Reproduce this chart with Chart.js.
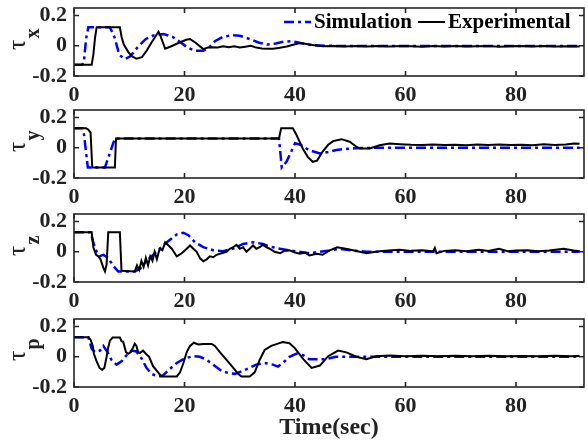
<!DOCTYPE html>
<html><head><meta charset="utf-8">
<script src="https://cdn.jsdelivr.net/npm/chart.js@4.4.0/dist/chart.umd.min.js"></script>
<style>
html,body{margin:0;padding:0;background:#fff;width:588px;height:440px;overflow:hidden;position:relative;}
canvas{position:absolute;left:0;}
</style></head><body>
<canvas id="c0"></canvas><canvas id="c1"></canvas><canvas id="c2"></canvas><canvas id="c3"></canvas>
<script>
// ---- tick labels ----
const xTicks = [0, 20, 40, 60, 80];
const yTicks = [-0.2, 0, 0.2];
const seriesNames = ['Simulation', 'Experimental'];
const xAxisTitle = 'Time(sec)';
const subscripts = ['x', 'y', 'z', 'p'];

// ---- tau_x : [time, value] ----
const tauXSim = [[0,-0.125],[1.5,-0.125],[1.8,-0.1],[2.2,0.05],[2.6,0.122],[6.5,0.122],[7.3,0.06],[8.2,-0.06],[9.2,-0.088],[10.2,-0.07],[11.5,-0.01],[13,0.045],[14.5,0.07],[16.2,0.078],[17.8,0.06],[19.2,0.025],[20.5,-0.01],[21.8,-0.032],[23.4,-0.033],[24.5,-0.01],[25.5,0.03],[27,0.06],[28.5,0.07],[30,0.066],[31.8,0.045],[33.5,0.02],[35,0.008],[36.5,0.015],[38,0.028],[39.5,0.03],[41,0.018],[43,0.005],[46,0],[50,-0.002],[60,-0.002],[70,-0.002],[80,-0.002],[91.5,-0.002]];
const tauXExp = [[0,-0.125],[3.2,-0.125],[3.5,-0.06],[3.8,0.05],[4.1,0.122],[8.3,0.122],[8.6,0.06],[9,0.01],[9.8,-0.04],[10.5,-0.07],[11.3,-0.085],[12.3,-0.075],[13.2,-0.03],[14,0.02],[14.8,0.065],[15.3,0.093],[15.7,0.06],[16.5,-0.02],[17.5,-0.005],[19,0.02],[20.3,0.04],[21,0.045],[22,0.02],[23.4,-0.022],[24.2,-0.012],[25,-0.01],[26,-0.012],[27,-0.004],[28,-0.01],[29,-0.003],[30,-0.012],[31,-0.006],[32,0],[33,-0.012],[34,-0.018],[35,-0.02],[36,-0.02],[37,-0.014],[38.5,-0.005],[40,0.01],[41,0.018],[42,0.012],[43.5,0.003],[45,-0.003],[47,-0.001],[49,-0.004],[51,-0.002],[53,-0.005],[55,-0.001],[57,-0.004],[59,-0.002],[61,-0.003],[63,-0.006],[65,-0.002],[67,-0.004],[69,-0.001],[71,-0.005],[73,-0.003],[75,-0.002],[77,-0.006],[79,-0.003],[81,-0.002],[83,-0.005],[85,-0.002],[87,-0.004],[89,-0.003],[91.5,-0.004]];

// ---- tau_y ----
const tauYSim = [[0,0.13],[1.6,0.13],[1.8,0.09],[2.5,-0.13],[5.6,-0.13],[7.4,0.062],[37.1,0.062],[37.6,-0.13],[38.5,-0.09],[40,0.03],[41,0.02],[42.5,-0.015],[44.5,-0.038],[46,-0.028],[47.5,-0.015],[49,-0.008],[51,-0.003],[55,0],[70,0],[91.5,0]];
const tauYExp = [[0,0.13],[2.2,0.13],[2.6,0.12],[3,0.1],[3.3,-0.13],[7.4,-0.13],[7.6,0.062],[37.1,0.062],[37.5,0.13],[39.6,0.13],[40.2,0.09],[41.4,-0.005],[42.3,-0.06],[43.2,-0.093],[44,-0.085],[45,-0.025],[46,0.02],[46.9,0.044],[48.4,0.057],[49.9,0.04],[51,0.01],[51.7,-0.005],[53.5,-0.005],[55.3,0.017],[57.1,0.028],[59,0.024],[61,0.02],[63,0.018],[65,0.022],[67,0.019],[69,0.02],[71,0.017],[73,0.021],[75,0.019],[77,0.022],[79,0.018],[81,0.02],[83,0.017],[85,0.024],[87,0.019],[89,0.021],[90.5,0.028],[91.5,0.026]];

// ---- tau_z ----
const tauZSim = [[0,0.13],[3,0.13],[3.5,0.06],[4.1,0],[4.6,-0.03],[5.3,-0.02],[6.2,-0.04],[7,-0.09],[8,-0.13],[11,-0.13],[12,-0.11],[13.1,-0.063],[14.9,0],[16.8,0.063],[18.6,0.115],[19.8,0.126],[20.7,0.11],[21.9,0.063],[23.4,0.031],[25.2,0.01],[27,0.004],[28.8,0.021],[30.6,0.052],[32.4,0.063],[34.2,0.052],[35.4,0.035],[37.3,0.02],[39,0.009],[42.6,-0.01],[46.3,0.009],[48.1,0.02],[50.5,0.008],[53,0],[70,0],[91.5,0]];
const tauZExp = [[0,0.13],[3.2,0.13],[3.5,0.03],[4,-0.02],[4.4,-0.03],[4.8,-0.05],[5.3,-0.105],[5.6,-0.13],[5.9,-0.084],[6.2,0.13],[8.3,0.13],[8.6,-0.126],[11,-0.13],[11.4,-0.09],[11.8,-0.12],[12.2,-0.06],[12.6,-0.1],[13,-0.04],[13.4,-0.09],[13.8,-0.03],[14.2,-0.06],[14.6,0],[15,-0.05],[15.5,0.02],[16,0.01],[16.5,0.063],[17.1,0.042],[17.7,0.02],[18.6,-0.031],[19.5,-0.01],[20.4,0.02],[21,0.042],[21.6,0.02],[22.2,0],[22.8,-0.042],[23.4,-0.063],[24,-0.05],[24.6,-0.03],[25.2,-0.036],[25.8,-0.02],[26.7,-0.01],[27.6,0],[28.2,0.02],[28.8,0.03],[29.4,0.046],[30,0.02],[30.6,0.03],[31.2,0],[31.8,0.02],[32.4,0.042],[33,0.02],[33.6,0.03],[34.2,0.046],[34.8,0.03],[35.4,0.02],[36.3,0],[37.3,-0.01],[38,0.005],[39,0.01],[40,-0.005],[40.9,-0.013],[41.8,-0.005],[42.6,-0.024],[43.9,-0.013],[45,-0.02],[46.3,0.01],[47.6,0.03],[48.7,0.024],[50.5,0.01],[52.9,-0.01],[55.3,0.004],[57,0.008],[58.9,0.013],[61,0.006],[63,0.01],[65,0.004],[65.3,0.026],[65.6,-0.01],[67,0.006],[69,0.01],[71,0.004],[73.3,0.013],[75,0.006],[76.9,0.02],[78.5,0.004],[80,0.008],[82,0.01],[84,0.003],[86,0.009],[88.6,0.02],[90.4,0.008],[91.5,0.004]];

// ---- tau_p ----
const tauPSim = [[0,0.13],[2.6,0.13],[3.2,0.052],[3.8,0.031],[4.7,0.041],[5.3,0.072],[5.9,0.04],[6.8,-0.021],[7.7,-0.052],[8.6,-0.03],[9.5,0.01],[10.4,0.041],[11.3,0.035],[12.2,-0.01],[13.1,-0.072],[14,-0.113],[15.3,-0.13],[16.1,-0.124],[17.3,-0.082],[18.6,-0.041],[20.1,-0.01],[21.6,0.004],[22.8,0],[24,-0.021],[25.2,-0.052],[26.7,-0.093],[27.9,-0.107],[29.1,-0.113],[30.6,-0.093],[31.8,-0.072],[33,-0.052],[34.5,-0.041],[36,-0.052],[36.9,-0.065],[37.8,-0.041],[39,0],[40.3,0.021],[41.5,0.01],[42.6,-0.016],[45.6,-0.016],[47.4,0],[70,0],[91.5,0]];
const tauPExp = [[0,0.13],[2.6,0.13],[3,0.113],[3.4,0.072],[3.6,0.02],[4.1,-0.031],[4.6,-0.072],[5.1,-0.087],[5.5,-0.072],[5.9,0],[6.2,0.062],[6.5,0.107],[7,0.128],[8.3,0.128],[8.6,0.103],[8.9,0.1],[9.4,0.031],[9.8,0.02],[10.3,0.031],[10.7,0.062],[11,0.087],[11.3,0.072],[11.6,0.031],[11.9,0.025],[12.5,0.041],[13,0.02],[13.6,0],[14.3,-0.062],[15.3,-0.107],[15.8,-0.13],[18.6,-0.13],[19.2,-0.103],[19.8,-0.041],[20.4,0.031],[21,0.072],[21.7,0.093],[22.5,0.082],[23.4,0.085],[24.9,0.085],[25.5,0.072],[26.4,0.031],[27.6,-0.021],[28.8,-0.072],[29.7,-0.113],[30.3,-0.13],[31.8,-0.13],[32.7,-0.103],[33.6,-0.021],[34.5,0.045],[35.7,0.072],[36.9,0.087],[37.8,0.097],[39,0.09],[40,0.056],[41.5,-0.016],[43,-0.074],[44.5,-0.058],[46,0.004],[47.8,0.041],[49.3,0.029],[51.1,0],[52.9,-0.016],[54.7,0.004],[57.1,0.008],[60,0.004],[63,0.006],[66,0.003],[69,0.007],[72,0.004],[75,0.006],[78,0.003],[81,0.005],[84,0.004],[87,0.006],[90,0.004],[91.5,0.005]];

const FONT = "'Liberation Serif', 'Times New Roman', serif";
const TEXT = '#222';
const panelTops = [8, 110, 214, 319];
const AREA_H = 68;
const PAD_TOP = 8;
const simSets = [tauXSim, tauYSim, tauZSim, tauPSim];
const expSets = [tauXExp, tauYExp, tauZExp, tauPExp];

const framePlugin = {
  id: 'frame',
  afterDraw(chart) {
    const {ctx, chartArea: a, scales: {x, y}} = chart;
    ctx.save();
    ctx.strokeStyle = '#262626';
    ctx.lineWidth = 1.6;
    ctx.strokeRect(a.left, a.top, a.right - a.left, a.bottom - a.top);
    const tl = 5;
    ctx.beginPath();
    xTicks.forEach(v => {
      const px = x.getPixelForValue(v);
      ctx.moveTo(px, a.bottom); ctx.lineTo(px, a.bottom - tl);
      ctx.moveTo(px, a.top); ctx.lineTo(px, a.top + tl);
    });
    yTicks.forEach(v => {
      const py = y.getPixelForValue(v);
      ctx.moveTo(a.left, py); ctx.lineTo(a.left + tl, py);
      ctx.moveTo(a.right, py); ctx.lineTo(a.right - tl, py);
    });
    ctx.stroke();
    ctx.restore();
  }
};

function tauPlugin(sub) {
  return {
    id: 'tau' + sub,
    afterDraw(chart) {
      const {ctx, chartArea: a} = chart;
      ctx.save();
      ctx.fillStyle = TEXT;
      ctx.translate(25, a.top + 42);
      ctx.rotate(-Math.PI / 2);
      ctx.textBaseline = 'alphabetic';
      ctx.textAlign = 'left';
      ctx.font = "26px " + FONT;
      ctx.fillText('τ', 0, 0);
      const w = ctx.measureText('τ').width;
      ctx.font = "bold 20px " + FONT;
      ctx.fillText(sub, w + 1, 14);
      ctx.restore();
    }
  };
}

// legend drawn inside the top panel from the datasets' own label / colour / dash
const insideLegend = {
  id: 'insideLegend',
  afterDatasetsDraw(chart, args, opts) {
    if (!opts.show) return;
    const {ctx, chartArea: a} = chart;
    ctx.save();
    ctx.font = 'bold 21px ' + FONT;
    ctx.textBaseline = 'middle';
    ctx.textAlign = 'left';
    const items = [1, 0].map(di => chart.data.datasets[di]);
    const sampleW = 27, gapIn = 3, gapOut = 6, rightPad = 13.5;
    const widths = items.map(d => sampleW + gapIn + ctx.measureText(d.label).width);
    let x = a.right - rightPad - widths.reduce((s, w) => s + w, 0) - gapOut * (items.length - 1);
    const y = a.top + 14;
    items.forEach((d, k) => {
      ctx.strokeStyle = d.borderColor;
      ctx.lineWidth = d.borderWidth;
      ctx.setLineDash(d.borderDash || []);
      ctx.beginPath(); ctx.moveTo(x, y); ctx.lineTo(x + sampleW, y); ctx.stroke();
      ctx.setLineDash([]);
      ctx.fillStyle = '#000';
      ctx.fillText(d.label, x + sampleW + gapIn, y + 1);
      x += widths[k] + gapOut;
    });
    ctx.restore();
  }
};

panelTops.forEach((top, i) => {
  const last = i === 3;
  const canvasTop = top - PAD_TOP;
  const canvasH = last ? 440 - canvasTop : PAD_TOP + AREA_H + 34;
  const cv = document.getElementById('c' + i);
  cv.width = 588; cv.height = canvasH;
  cv.style.width = '588px'; cv.style.height = canvasH + 'px';
  cv.style.top = canvasTop + 'px';
  new Chart(cv, {
    type: 'line',
    data: {
      datasets: [
        {label: seriesNames[1], data: expSets[i].map(([x, y]) => ({x, y})), borderColor: '#000000', backgroundColor: '#000000', borderWidth: 2, pointRadius: 0, tension: 0, fill: false},
        {label: seriesNames[0], data: simSets[i].map(([x, y]) => ({x, y})), borderColor: '#0000ff', backgroundColor: '#0000ff', borderWidth: 2.5, borderDash: [10, 4, 3, 4], pointRadius: 0, tension: 0, fill: false}
      ]
    },
    options: {
      responsive: false, animation: false, devicePixelRatio: 1,
      layout: {autoPadding: false, padding: {top: PAD_TOP, right: 4, left: 0, bottom: 0}},
      plugins: {
        tooltip: {enabled: false},
        legend: {display: false},
        insideLegend: {show: i === 0}
      },
      scales: {
        x: {
          type: 'linear', min: 0, max: 92.3,
          afterBuildTicks: s => { s.ticks = xTicks.map(v => ({value: v})); },
          afterFit: s => { s.height = canvasH - PAD_TOP - AREA_H; s.paddingLeft = 0; s.paddingRight = 0; },
          grid: {display: false, drawTicks: false},
          border: {display: false},
          ticks: {font: {family: FONT, size: 22, weight: 'bold'}, color: TEXT, padding: 6, maxRotation: 0, autoSkip: false, callback: v => String(v)},
          title: {display: last, text: xAxisTitle, font: {family: FONT, size: 24, weight: 'bold', lineHeight: 1}, color: TEXT, padding: {top: 0, bottom: 0}}
        },
        y: {
          min: -0.2, max: 0.25,
          afterBuildTicks: s => { s.ticks = yTicks.map(v => ({value: v})); },
          afterFit: s => { s.width = 74; s.paddingTop = 0; s.paddingBottom = 0; },
          grid: {display: false, drawTicks: false},
          border: {display: false},
          ticks: {font: {family: FONT, size: 22, weight: 'bold'}, color: TEXT, padding: 7, autoSkip: false, callback: v => (v === 0 ? '0' : String(v))}
        }
      }
    },
    plugins: [framePlugin, tauPlugin(subscripts[i]), insideLegend]
  });
});
</script>
</body></html>
